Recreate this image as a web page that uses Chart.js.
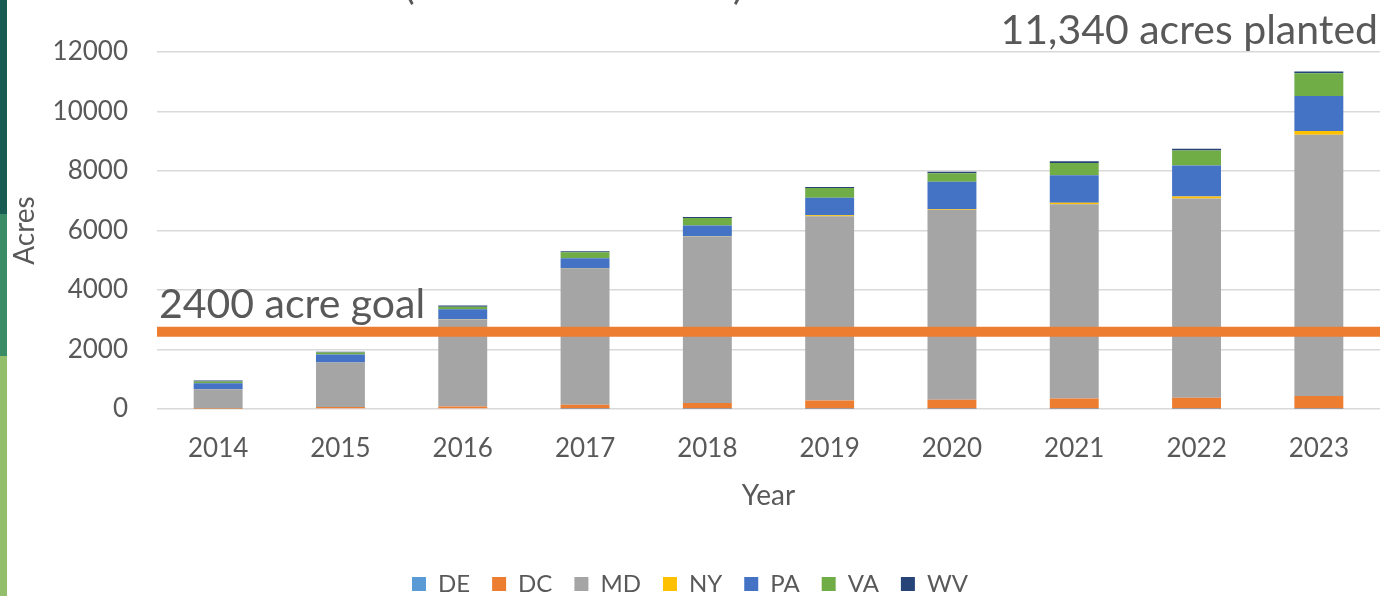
<!DOCTYPE html>
<html>
<head>
<meta charset="utf-8">
<script src="https://cdn.jsdelivr.net/npm/chart.js@4.4.0/dist/chart.umd.min.js"></script>
<style>
    body { margin: 0; background: #ffffff; }
    .wrap { position: relative; width: 1380px; height: 596px; overflow: hidden; }
    .stripe { position: absolute; left: 0; width: 7px; }
    .paren { position: absolute; top: -40px; font: 40px Lato, sans-serif; color: #595959; }
</style>
</head>
<body>
<div class="wrap">
    <canvas id="acres" width="1380" height="596"></canvas>
    <div class="stripe" style="top:0;height:214px;background:#185b52"></div>
    <div class="stripe" style="top:214px;height:142px;background:#3a8c67"></div>
    <div class="stripe" style="top:356px;height:240px;background:#93bf6d"></div>
    <div class="paren" style="left:404px">(</div>
    <div class="paren" style="left:733px">)</div>
</div>
<script>
const years = ["2014", "2015", "2016", "2017", "2018", "2019", "2020", "2021", "2022", "2023"]

// acres planted per state
const DE = [0, 0, 0, 5, 5, 5, 5, 5, 5, 10]
const DC = [10, 70, 85, 140, 200, 280, 310, 350, 370, 425]
const MD = [650, 1490, 2925, 4570, 5590, 6190, 6380, 6530, 6700, 8780]
const NY = [5, 5, 10, 10, 15, 35, 25, 50, 70, 130]
const PA = [200, 270, 336, 340, 357, 595, 919, 919, 1043, 1178]
const VA = [60, 60, 85, 200, 250, 323, 283, 414, 505, 764]
const WV = [30, 30, 35, 40, 35, 35, 50, 57, 55, 60]

const yTicks = [0, 2000, 4000, 6000, 8000, 10000, 12000]
const goalLine = 2600
const goalText = "2400 acre goal"
const totalText = "11,340 acres planted"

const grey = "#595959"
const font = "Lato, 'Noto Sans', sans-serif"

const goalPlugin = {
    id: "goal",
    afterDatasetsDraw(chart) {
        const ctx = chart.ctx
        const y = chart.scales.y.getPixelForValue(goalLine)
        ctx.save()
        ctx.strokeStyle = "#ed7d31"
        ctx.lineWidth = 10
        ctx.beginPath()
        ctx.moveTo(chart.chartArea.left, y)
        ctx.lineTo(chart.width, y)
        ctx.stroke()

        ctx.fillStyle = grey
        ctx.font = "41px " + font
        ctx.textBaseline = "alphabetic"
        ctx.textAlign = "left"
        ctx.fillText(goalText, chart.chartArea.left + 2, y - 14)
        ctx.textAlign = "right"
        ctx.fillText(totalText, chart.width - 2, 44)
        ctx.restore()
    }
}

function dataset(label, data, color) {
    return { label: label, data: data, backgroundColor: color, borderWidth: 0 }
}

const ctx = document.querySelector("#acres").getContext("2d")

new Chart(ctx, {
    type: "bar",
    data: {
        labels: years,
        datasets: [
            dataset("DE", DE, "#5b9bd5"),
            dataset("DC", DC, "#ed7d31"),
            dataset("MD", MD, "#a5a5a5"),
            dataset("NY", NY, "#ffc000"),
            dataset("PA", PA, "#4472c4"),
            dataset("VA", VA, "#70ad47"),
            dataset("WV", WV, "#264478")
        ]
    },
    options: {
        responsive: false,
        animation: false,
        layout: { padding: { top: 52, right: 0, bottom: -10, left: 0 } },
        datasets: { bar: { categoryPercentage: 0.4, barPercentage: 1 } },
        scales: {
            x: {
                stacked: true,
                grid: { display: false },
                border: { display: false },
                ticks: { color: grey, font: { family: font, size: 26 }, padding: 16 },
                title: { display: true, text: "Year", color: grey, font: { family: font, size: 28 }, padding: { top: 0, bottom: 37 } },
                afterFit(scale) { scale.height = 141 }
            },
            y: {
                stacked: true,
                min: 0,
                max: 12000,
                afterBuildTicks(scale) { scale.ticks = yTicks.map(v => ({ value: v })) },
                grid: { color: "#d9d9d9", lineWidth: 1.5, drawTicks: false },
                border: { display: false },
                ticks: { color: grey, font: { family: font, size: 26 }, padding: 29, callback: v => String(v) },
                title: { display: true, text: "Acres", color: grey, font: { family: font, size: 28 }, padding: { top: 8, bottom: 0 } },
                afterFit(scale) { scale.width = 157 }
            }
        },
        plugins: {
            legend: {
                position: "bottom",
                labels: { color: grey, font: { family: font, size: 24 }, boxWidth: 14, boxHeight: 14, padding: 22 }
            },
            tooltip: { enabled: false }
        }
    },
    plugins: [goalPlugin]
})
</script>
</body>
</html>
